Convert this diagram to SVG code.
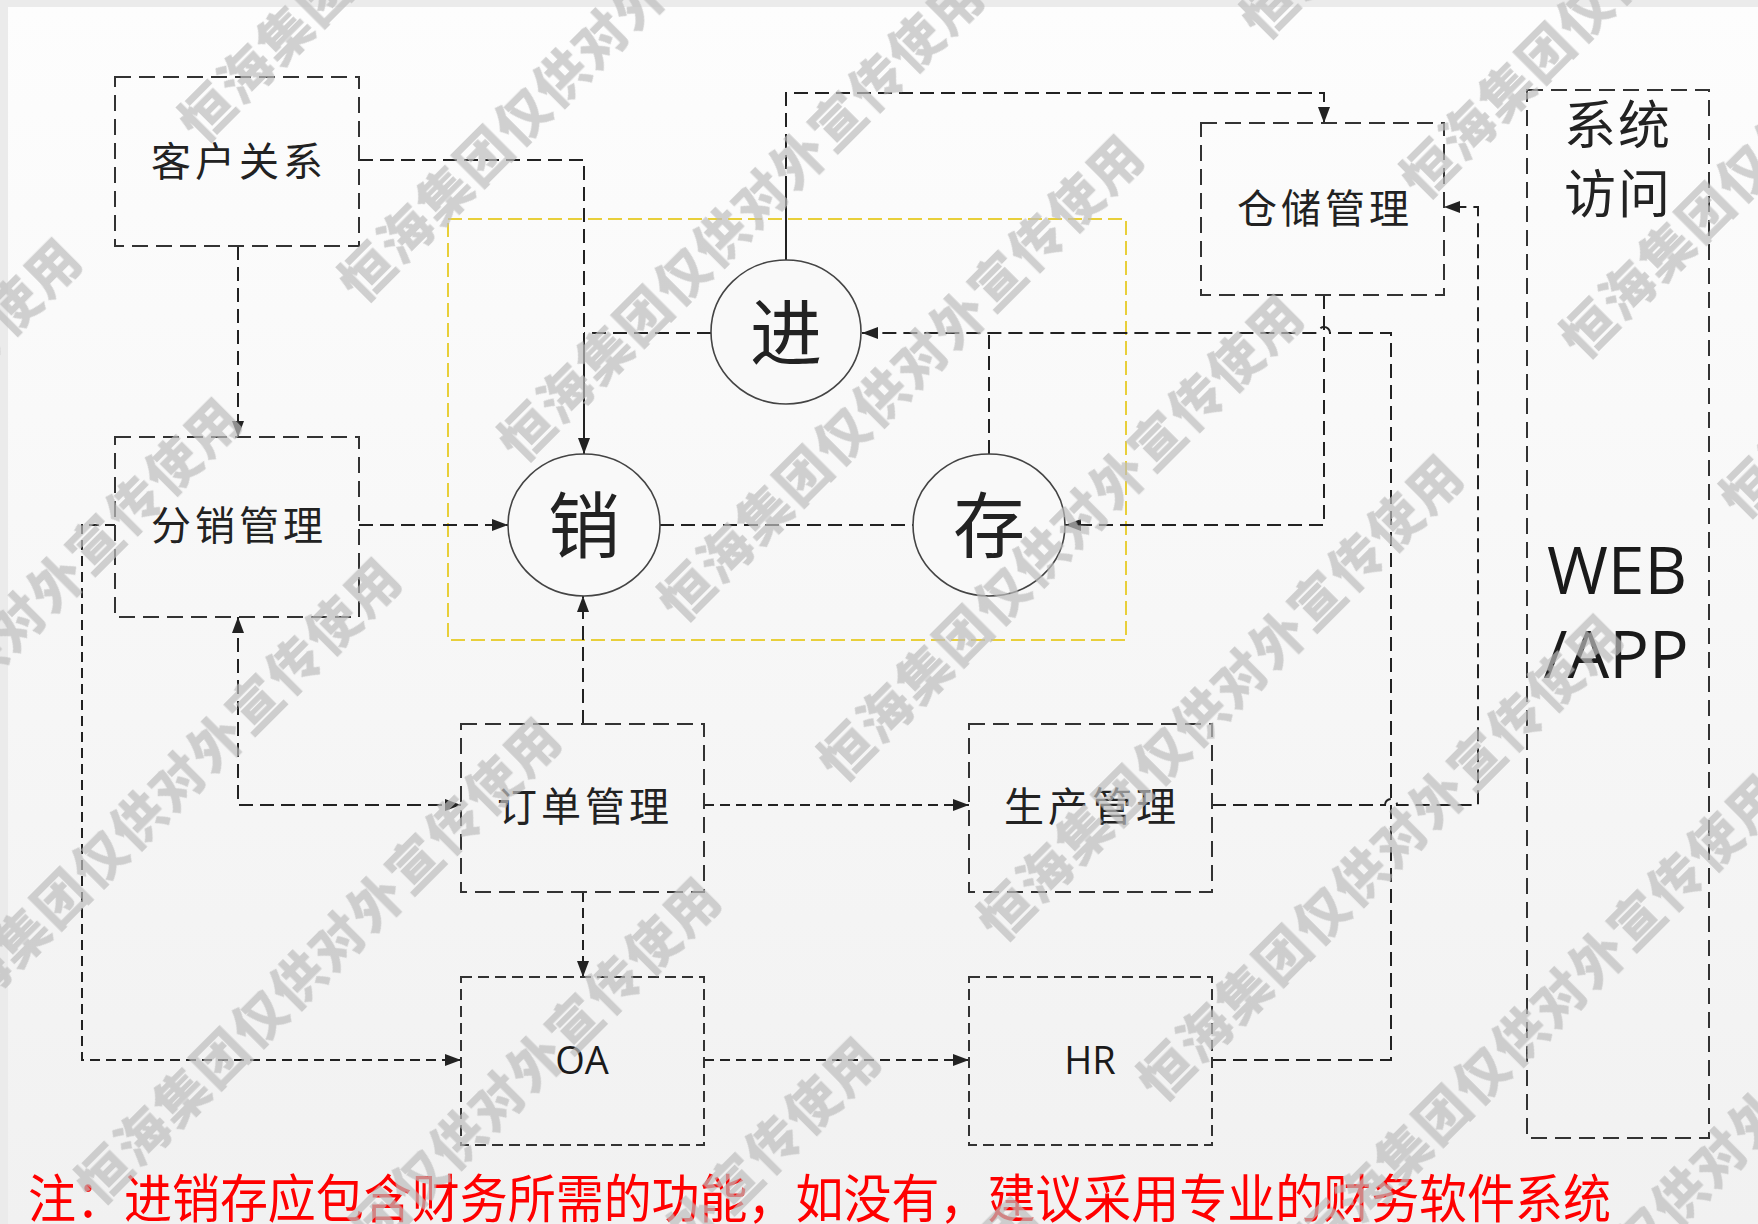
<svg xmlns="http://www.w3.org/2000/svg" width="1758" height="1224" viewBox="0 0 1758 1224">
  <defs>
    <linearGradient id="bg" x1="0" y1="0" x2="0" y2="1">
      <stop offset="0" stop-color="#fdfdfd"/>
      <stop offset="1" stop-color="#f1f1f1"/>
    </linearGradient>
    <marker id="arr" viewBox="0 0 16 12" refX="16" refY="6" markerWidth="16" markerHeight="12" markerUnits="userSpaceOnUse" orient="auto-start-reverse">
      <path d="M0,0 L16,6 L0,12 Z" fill="#222"/>
    </marker>
    <pattern id="wm" patternUnits="userSpaceOnUse" x="0" y="-113" width="824" height="226" patternTransform="rotate(-45)">
      <text x="40" y="133" class="wmt">恒海集团仅供对外宣传使用</text>
    </pattern>
    <style>
      .box{fill:none;stroke:#333;stroke-width:2;stroke-dasharray:16 8}
      .box2{fill:none;stroke:#333;stroke-width:2;stroke-dasharray:11 6}
      .lbl{font-family:"Noto Sans CJK SC","Noto Sans CJK JP",sans-serif;font-size:40px;fill:#222;text-anchor:middle;letter-spacing:4px}
      .big{font-size:72px;letter-spacing:0}
      .lat{font-family:"Open Sans","Liberation Sans",sans-serif;fill:#1a1a1a;text-anchor:middle;font-weight:500}
      .circ{fill:#f9f9f9;stroke:#444;stroke-width:1.6}
      .con{fill:none;stroke:#222;stroke-width:2;stroke-dasharray:14 7}
      .con2{fill:none;stroke:#222;stroke-width:2;stroke-dasharray:10 6}
      .sol{fill:none;stroke:#222;stroke-width:2}
      .wmt{font-family:"Noto Sans CJK SC",sans-serif;font-weight:900;font-size:53px;letter-spacing:2px;fill:#bdbdbd}
      .note{font-family:"Noto Sans CJK SC","Noto Sans CJK JP",sans-serif;font-size:52px;fill:#ff0000}
    </style>
  </defs>

  <rect x="0" y="0" width="1758" height="1224" fill="#ebebeb"/>
  <rect x="8" y="7" width="1750" height="1217" fill="url(#bg)"/>

  <!-- yellow core frame -->
  <rect id="core-frame" x="448" y="219" width="678" height="421" fill="none" stroke="#e8cf3a" stroke-width="2" stroke-dasharray="14 6"/>

  <g id="connectors">
    <!-- 客户关系 -> 销 -->
    <path class="con" d="M359,160 H584 V333"/>
    <path class="sol" d="M584,333 V454" marker-end="url(#arr)"/>
    <!-- 进 -> junction -->
    <path class="con" d="M711,333 H584"/>
    <!-- 客户关系 -> 分销管理 -->
    <path class="con" d="M238,246 V437" marker-end="url(#arr)"/>
    <!-- 分销管理 -> 销 -->
    <path class="con" d="M359,525 H508" marker-end="url(#arr)"/>
    <!-- 进 -> 仓储管理 -->
    <path class="sol" d="M786,260 V190"/>
    <path class="con" d="M786,190 V93 H1324 V123" marker-end="url(#arr)"/>
    <!-- 存 -> 进 -->
    <path class="con" d="M989,454 V333"/>
    <!-- HR -> 进 -->
    <path class="con" d="M1212,1060 H1391 V333 H1330 A6,6 0 0 0 1318,333 H862" marker-end="url(#arr)"/>
    <!-- 仓储管理 -> 存 -->
    <path class="con" d="M1324,295 V525 H1065" marker-end="url(#arr)"/>
    <!-- 生产管理 -> 仓储管理 -->
    <path class="con" d="M1212,805 H1385 A6,6 0 0 1 1397,805 H1478 V207 H1444" marker-end="url(#arr)"/>
    <!-- 销 - 存 -->
    <path class="con" d="M660,525 H914"/>
    <!-- 订单管理 -> 销 -->
    <path class="con" d="M583,724 V596" marker-end="url(#arr)"/>
    <!-- 分销管理 <-> 订单管理 -->
    <path class="con" d="M238,617 V805 H461" marker-start="url(#arr)" marker-end="url(#arr)"/>
    <!-- 分销管理 -> OA -->
    <path class="con2" d="M115,525 H82 V1060 H461" marker-end="url(#arr)"/>
    <!-- 订单管理 -> 生产管理 -->
    <path class="con2" d="M704,805 H969" marker-end="url(#arr)"/>
    <!-- 订单管理 -> OA -->
    <path class="con2" d="M583,892 V977" marker-end="url(#arr)"/>
    <!-- OA -> HR -->
    <path class="con2" d="M704,1060 H969" marker-end="url(#arr)"/>
  </g>

  <g id="crm">
    <rect class="box" x="115" y="77" width="244" height="169"/>
    <text class="lbl" x="239" y="176">客户关系</text>
  </g>
  <g id="distribution">
    <rect class="box" x="115" y="437" width="244" height="180"/>
    <text class="lbl" x="239" y="540">分销管理</text>
  </g>
  <g id="order">
    <rect class="box" x="461" y="724" width="243" height="168"/>
    <text class="lbl" x="585" y="821">订单管理</text>
  </g>
  <g id="production">
    <rect class="box" x="969" y="724" width="243" height="168"/>
    <text class="lbl" x="1092" y="821">生产管理</text>
  </g>
  <g id="oa">
    <rect class="box2" x="461" y="977" width="243" height="168"/>
    <text class="lat" x="582" y="1074" font-size="38">OA</text>
  </g>
  <g id="hr">
    <rect class="box2" x="969" y="977" width="243" height="168"/>
    <text class="lat" x="1090" y="1074" font-size="38">HR</text>
  </g>
  <g id="warehouse">
    <rect class="box" x="1201" y="123" width="243" height="172"/>
    <text class="lbl" x="1325" y="223">仓储管理</text>
  </g>
  <g id="access">
    <rect class="box" x="1527" y="90" width="182" height="1048"/>
    <text class="lbl" x="1618" y="144" style="font-size:52px;letter-spacing:2px">系统</text>
    <text class="lbl" x="1618" y="213" style="font-size:52px;letter-spacing:2px">访问</text>
    <text class="lat" x="1617" y="594" font-size="66">WEB</text>
    <text class="lat" x="1616" y="678" font-size="66">/APP</text>
  </g>
  <g id="jin">
    <ellipse class="circ" cx="786" cy="332" rx="75" ry="72"/>
    <text class="lbl big" x="786" y="359">进</text>
  </g>
  <g id="xiao">
    <ellipse class="circ" cx="584" cy="525" rx="76" ry="71"/>
    <text class="lbl big" x="584" y="552">销</text>
  </g>
  <g id="cun">
    <ellipse class="circ" cx="989" cy="525" rx="76" ry="71"/>
    <text class="lbl big" x="989" y="552">存</text>
  </g>

  <text class="note" x="28" y="1218" textLength="1583" lengthAdjust="spacingAndGlyphs">注：进销存应包含财务所需的功能，如没有，建议采用专业的财务软件系统</text>

  <rect id="watermark" x="0" y="0" width="1758" height="1224" fill="url(#wm)" opacity="0.7"/>
</svg>
